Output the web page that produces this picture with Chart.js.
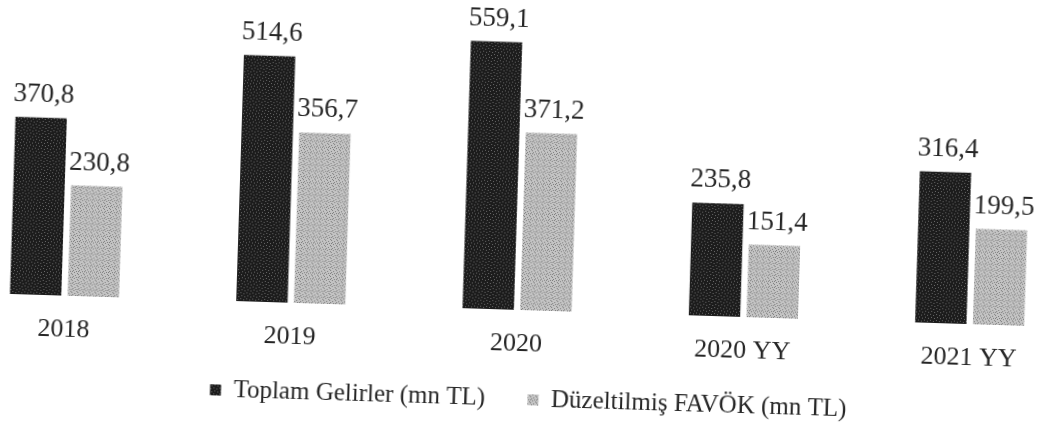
<!DOCTYPE html>
<html lang="tr">
<head>
<meta charset="utf-8">
<title>Toplam Gelirler ve Düzeltilmiş FAVÖK</title>
<script src="https://cdn.jsdelivr.net/npm/chart.js@4/dist/chart.umd.min.js"></script>
<style>
  html, body { margin: 0; padding: 0; background: #fff; overflow: hidden; }
  body { width: 1042px; height: 426px; position: relative; }
  /* taranmis sayfa hafif egik: grafigi biraz dondur */
  #kutu {
    position: absolute; left: -49px; top: 0;
    width: 1132px; height: 426px;
    transform: rotate(1.8deg);
    transform-origin: 570px 311px;
  }
</style>
</head>
<body>
<div id="kutu"><canvas id="bar-chart" width="1132" height="426"></canvas></div>
<script>
// Veriler
const donemler = ["2018", "2019", "2020", "2020 YY", "2021 YY"];
const toplamGelirler = [370.8, 514.6, 559.1, 235.8, 316.4];
const duzeltilmisFavok = [230.8, 356.7, 371.2, 151.4, 199.5];
const seriAdlari = ["Toplam Gelirler (mn TL)", "Düzeltilmiş FAVÖK (mn TL)"];

(function () {
  "use strict";

  const YAZI = "'Liberation Serif', 'DejaVu Serif', serif";

  // Taramadaki noktali dokuyu taklit eden kucuk desenler
  function desen(zemin, nokta, noktalar) {
    const c = document.createElement("canvas");
    c.width = 6;
    c.height = 6;
    const g = c.getContext("2d");
    g.fillStyle = zemin;
    g.fillRect(0, 0, 6, 6);
    g.fillStyle = nokta;
    noktalar.forEach(([x, y]) => g.fillRect(x, y, 1, 1));
    return g.createPattern(c, "repeat");
  }
  const KOYU = desen("#1c1c1c", "#6a6a6a", [[1, 1], [4, 2], [2, 4], [5, 5]]);
  const ACIK = desen("#c4c4c4", "#7c7c7c",
    [[0, 0], [3, 1], [1, 2], [4, 3], [2, 4], [5, 5], [0, 3]]);

  // Cubuk ustune degerleri yazan kucuk eklenti (virgullu ondalik)
  const degerEtiketleri = {
    id: "degerEtiketleri",
    afterDatasetsDraw(chart) {
      const ctx = chart.ctx;
      ctx.save();
      ctx.font = "27px " + YAZI;
      ctx.fillStyle = "#262626";
      ctx.textAlign = "center";
      ctx.textBaseline = "middle";
      chart.data.datasets.forEach((ds, i) => {
        chart.getDatasetMeta(i).data.forEach((bar, j) => {
          const metin = ds.data[j].toFixed(1).replace(".", ",");
          ctx.fillText(metin, bar.x + 2, bar.y - 23);
        });
      });
      ctx.restore();
    },
  };

  // Lejandi taramadaki yerine biraz saga kaydir
  const lejantKaydir = {
    id: "lejantKaydir",
    afterLayout(chart) {
      chart.legend.left += 14;
      chart.legend.right += 14;
    },
  };

  new Chart(document.getElementById("bar-chart").getContext("2d"), {
    type: "bar",
    data: {
      labels: donemler,
      datasets: [
        {
          label: seriAdlari[0],
          data: toplamGelirler,
          backgroundColor: KOYU,
          borderWidth: 0,
        },
        {
          label: seriAdlari[1],
          data: duzeltilmisFavok,
          backgroundColor: ACIK,
          borderWidth: 0,
        },
      ],
    },
    options: {
      responsive: false,
      animation: false,
      layout: { padding: { top: 23, bottom: 4, left: 0, right: 0 } },
      datasets: {
        bar: { categoryPercentage: 0.51, barPercentage: 0.89 },
      },
      scales: {
        x: {
          grid: { display: false, drawTicks: false },
          border: { display: false },
          ticks: {
            padding: 19,
            color: "#262626",
            font: { family: YAZI, size: 26 },
          },
          // etiketler kirpilmasin diye eksen kutusu yeterince yuksek
          afterFit: (scale) => { scale.height = 52; },
        },
        y: {
          display: false,
          min: 0,
          max: 600,
        },
      },
      plugins: {
        legend: {
          position: "bottom",
          labels: {
            boxWidth: 11,
            boxHeight: 11,
            padding: 25,
            color: "#262626",
            font: { family: YAZI, size: 25 },
            // iki oge arasindaki boslugu taramadaki gibi ac
            generateLabels(chart) {
              const ogeler = Chart.defaults.plugins.legend.labels.generateLabels(chart);
              ogeler[0].text += "\u2002\u2009";
              return ogeler;
            },
          },
        },
        tooltip: { enabled: false },
      },
    },
    plugins: [degerEtiketleri, lejantKaydir],
  });
})();
</script>
</body>
</html>
